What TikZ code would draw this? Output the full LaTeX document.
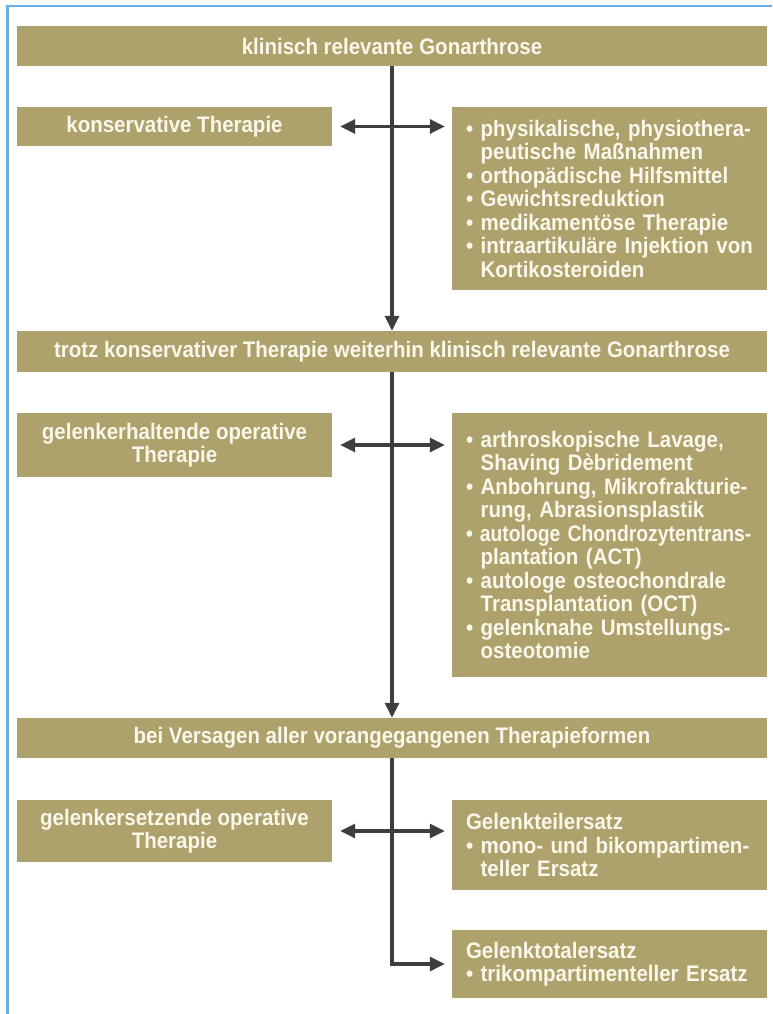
\documentclass[tikz,border=0pt]{standalone}
\usepackage{fontspec}
\usepackage{graphicx}
\setmainfont{Liberation Sans}[FakeStretch=0.91]
\usetikzlibrary{arrows.meta}
\definecolor{boxfill}{RGB}{173,161,108}
\definecolor{boxtext}{RGB}{250,247,235}
\definecolor{arrowcol}{RGB}{62,62,62}
\definecolor{framecol}{RGB}{106,174,227}
\newcommand\bli[1]{\mbox{\textbullet\ #1}}
\newcommand\cnt[1]{\mbox{\phantom{\textbullet\ }#1}}
\tikzset{
  box/.style={fill=boxfill, draw=none, text=boxtext, inner ysep=3pt,
    font=\fontsize{22.5}{23.5}\selectfont\bfseries},
  wide/.style={box, minimum width=750pt, align=center},
  leftbox/.style={box, minimum width=315pt, align=center},
  listbox/.style={box, minimum width=315pt, text width=287pt, inner xsep=14pt, align=left},
  conn/.style={draw=arrowcol, line width=3.2pt},
  tip/.style={-{Triangle[length=15pt,width=14pt]}},
  dtip/.style={{Triangle[length=15pt,width=14pt]}-{Triangle[length=15pt,width=14pt]}}
}
\begin{document}
\begin{tikzpicture}[x=1pt,y=-1pt]
\useasboundingbox (0,0) rectangle (772,1014);
\draw[framecol, line width=2.2pt] (7.5,1014) -- (7.5,6) -- (772,6);

\node[wide, minimum height=40pt] (top) at (392,46) {klinisch relevante Gonarthrose};
\node[leftbox, minimum height=39pt] (kons) at (174.5,126.5) {konservative Therapie};
\node[listbox, minimum height=183pt] (phys) at (609.5,198.5) {%
\bli{physikalische, physiothera-}\\
\cnt{peutische Maßnahmen}\\
\bli{orthopädische Hilfsmittel}\\
\bli{Gewichtsreduktion}\\
\bli{medikamentöse Therapie}\\
\bli{intraartikuläre Injektion von}\\
\cnt{Kortikosteroiden}};

\node[wide, minimum height=41pt] (trotz) at (392,351.5) {trotz konservativer Therapie weiterhin klinisch relevante Gonarthrose};
\node[leftbox, minimum height=64pt] (erh) at (174.5,445) {gelenkerhaltende operative\\Therapie};
\node[listbox, minimum height=264pt] (arth) at (609.5,545) {%
\bli{arthroskopische Lavage,}\\
\cnt{Shaving Dèbridement}\\
\bli{Anbohrung, Mikrofrakturie-}\\
\cnt{rung, Abrasionsplastik}\\
\scalebox{0.945}[1]{\bli{autologe Chondrozytentrans-}}\\
\cnt{plantation (ACT)}\\
\bli{autologe osteochondrale}\\
\cnt{Transplantation (OCT)}\\
\bli{gelenknahe Umstellungs-}\\
\cnt{osteotomie}};

\node[wide, minimum height=40pt] (bei) at (392,738) {bei Versagen aller vorangegangenen Therapieformen};
\node[leftbox, minimum height=62pt] (ers) at (174.5,831) {gelenkersetzende operative\\Therapie};
\node[listbox, minimum height=90pt] (teil) at (609.5,845) {%
\mbox{Gelenkteilersatz}\\
\bli{mono- und bikompartimen-}\\
\cnt{teller Ersatz}};
\node[listbox, minimum height=68pt] (total) at (609.5,964) {%
\mbox{Gelenktotalersatz}\\
\bli{trikompartimenteller Ersatz}};

\draw[conn, tip] (top.south) -- (trotz.north);
\draw[conn, tip] (trotz.south) -- (bei.north);
\draw[conn, dtip] ([xshift=8pt]kons.east) -- ([xshift=-7pt]kons.east -| phys.west);
\draw[conn, dtip] ([xshift=8pt]erh.east) -- ([xshift=-7pt]erh.east -| arth.west);
\draw[conn, dtip] ([xshift=8pt]ers.east) -- ([xshift=-7pt]ers.east -| teil.west);
\draw[conn, tip] (bei.south) |- ([xshift=-7pt]total.west);
\end{tikzpicture}
\end{document}
